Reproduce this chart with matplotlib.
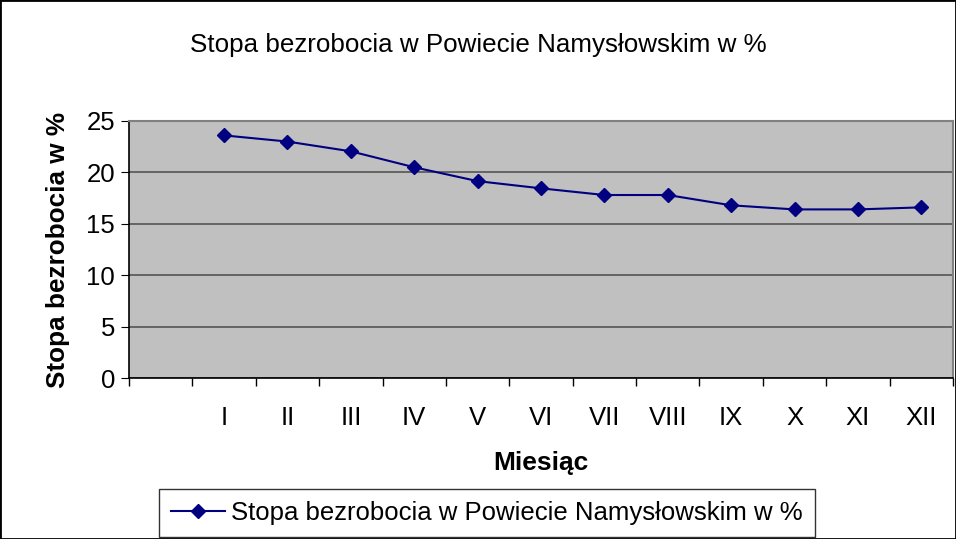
import matplotlib.pyplot as plt
from matplotlib.patches import Rectangle

plt.rcParams['font.family'] = ['Liberation Sans', 'DejaVu Sans']

months = ['', 'I', 'II', 'III', 'IV', 'V', 'VI', 'VII', 'VIII', 'IX', 'X', 'XI', 'XII']
rate = [23.6, 23.0, 22.05, 20.5, 19.15, 18.45, 17.8, 17.8, 16.8, 16.4, 16.4, 16.6]
series_name = 'Stopa bezrobocia w Powiecie Namysłowskim w %'

fig = plt.figure(figsize=(9.56, 5.39), dpi=100)
ax = fig.add_axes([129 / 956, 1 - 378 / 539, 824 / 956, 257 / 539])
ax.set_facecolor('#C0C0C0')

x = list(range(1, len(months)))
ax.plot(x, rate, color='#000080', marker='D', markersize=7, linewidth=1.5,
        label=series_name)

ax.set_xlim(-0.5, len(months) - 0.5)
ax.set_ylim(0, 25)
ax.set_yticks([0, 5, 10, 15, 20, 25])
ax.yaxis.grid(True, color='#555555', linewidth=1.2)
ax.set_axisbelow(True)

ax.set_xticks(range(len(months)))
ax.set_xticklabels(months)
ax.set_xticks([i - 0.5 for i in range(len(months) + 1)], minor=True)
ax.tick_params(axis='x', which='major', length=0, pad=20, labelsize=18.5)
ax.tick_params(axis='x', which='minor', length=6, direction='out', width=1)
ax.tick_params(axis='y', length=6, direction='out', labelsize=18.5, pad=4)

for side in ['left', 'bottom']:
    ax.spines[side].set_color('black')
    ax.spines[side].set_linewidth(1.2)
for side in ['top', 'right']:
    ax.spines[side].set_color('#808080')
    ax.spines[side].set_linewidth(1.5)

ax.set_xlabel('Miesiąc', fontsize=19, fontweight='bold', labelpad=15)
ax.set_ylabel('Stopa bezrobocia w %', fontsize=18.8, fontweight='bold', labelpad=12)
fig.text(0.5, 1 - 45 / 539, series_name, ha='center', va='center', fontsize=18.7)

leg = fig.legend(loc='center', bbox_to_anchor=(487 / 956, 1 - 513 / 539),
                 fontsize=18.5, frameon=True, fancybox=False, handlelength=2.1,
                 handletextpad=0.25, borderpad=0.45, borderaxespad=0,
                 edgecolor='black')
leg.get_frame().set_linewidth(1)

fig.patches.append(Rectangle((0, 0), 1, 1, transform=fig.transFigure,
                             fill=False, edgecolor='black', linewidth=2))

fig.savefig('out.png', dpi=100)
